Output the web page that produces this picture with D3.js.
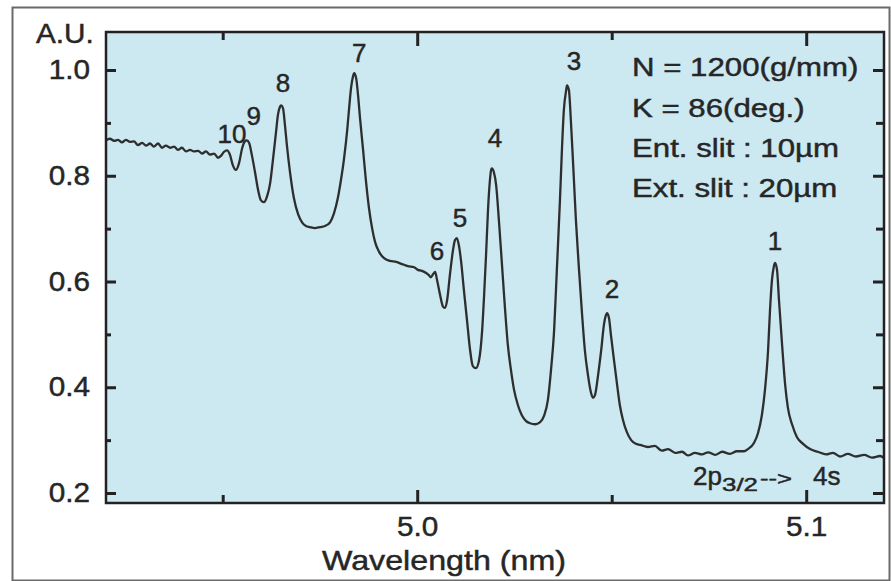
<!DOCTYPE html>
<html><head><meta charset="utf-8">
<script src="https://cdn.jsdelivr.net/npm/d3@7"></script>
<style>
body{margin:0;background:#fff}
svg{display:block}
text{font-family:"Liberation Sans",Arial,Helvetica,sans-serif;fill:#262626;stroke:#262626;stroke-width:0.45px}
</style>
</head><body>
<svg id="chart" width="891" height="581"></svg>
<script>
// ---------- data ----------
const wavelength = [
4.9200,4.9210,4.9221,4.9231,4.9241,4.9251,4.9262,4.9272,4.9282,4.9293,4.9303,4.9313,4.9323,4.9334,4.9344,4.9354,4.9365,4.9375,4.9385,4.9395,
4.9406,4.9416,4.9426,4.9437,4.9447,4.9457,4.9467,4.9478,4.9488,4.9496,4.9503,4.9511,4.9519,4.9526,4.9534,4.9542,4.9550,4.9557,4.9562,4.9568,
4.9575,4.9583,4.9591,4.9598,4.9606,4.9614,4.9622,4.9629,4.9637,4.9642,4.9647,4.9650,4.9655,4.9660,4.9665,4.9673,4.9683,4.9694,4.9704,4.9714,
4.9724,4.9737,4.9750,4.9763,4.9776,4.9786,4.9796,4.9804,4.9812,4.9820,4.9825,4.9830,4.9835,4.9838,4.9843,4.9848,4.9853,4.9861,4.9868,4.9876,
4.9884,4.9892,4.9902,4.9915,4.9930,4.9946,4.9961,4.9976,4.9992,5.0002,5.0012,5.0023,5.0030,5.0035,5.0041,5.0046,5.0051,5.0059,5.0066,5.0071,
5.0077,5.0084,5.0092,5.0097,5.0102,5.0107,5.0113,5.0120,5.0128,5.0136,5.0143,5.0151,5.0159,5.0167,5.0172,5.0177,5.0182,5.0187,5.0190,5.0192,
5.0197,5.0203,5.0210,5.0218,5.0226,5.0233,5.0241,5.0249,5.0259,5.0269,5.0280,5.0290,5.0303,5.0316,5.0326,5.0336,5.0344,5.0352,5.0359,5.0367,
5.0372,5.0377,5.0383,5.0385,5.0390,5.0395,5.0401,5.0408,5.0416,5.0424,5.0431,5.0439,5.0447,5.0452,5.0457,5.0465,5.0473,5.0480,5.0485,5.0488,
5.0493,5.0498,5.0506,5.0514,5.0521,5.0529,5.0539,5.0550,5.0562,5.0573,5.0593,5.0611,5.0629,5.0645,5.0663,5.0681,5.0696,5.0714,5.0732,5.0748,
5.0766,5.0784,5.0804,5.0822,5.0840,5.0850,5.0866,5.0876,5.0886,5.0894,5.0902,5.0907,5.0912,5.0917,5.0920,5.0925,5.0930,5.0938,5.0946,5.0953,
5.0964,5.0976,5.0992,5.1010,5.1030,5.1051,5.1069,5.1087,5.1107,5.1128,5.1149,5.1169,5.1190,5.1200
];
const intensity = [
0.867,0.870,0.866,0.868,0.863,0.868,0.864,0.865,0.858,0.862,0.857,0.861,0.855,0.861,0.853,0.857,0.853,0.855,0.849,0.853,
0.846,0.849,0.846,0.847,0.842,0.846,0.840,0.842,0.834,0.838,0.845,0.848,0.839,0.820,0.811,0.824,0.852,0.865,0.867,0.862,
0.839,0.807,0.773,0.754,0.750,0.761,0.786,0.829,0.882,0.915,0.930,0.933,0.928,0.896,0.858,0.807,0.758,0.727,0.712,0.705,
0.703,0.701,0.703,0.705,0.712,0.729,0.758,0.792,0.833,0.886,0.928,0.966,0.988,0.994,0.985,0.952,0.909,0.848,0.792,0.739,
0.701,0.674,0.656,0.644,0.639,0.637,0.633,0.629,0.627,0.622,0.620,0.616,0.612,0.608,0.614,0.618,0.603,0.574,0.553,0.550,
0.565,0.612,0.659,0.678,0.682,0.669,0.637,0.584,0.527,0.470,0.440,0.436,0.451,0.508,0.574,0.650,0.735,0.792,0.811,0.814,
0.807,0.782,0.716,0.631,0.546,0.480,0.433,0.395,0.366,0.347,0.336,0.332,0.330,0.334,0.346,0.376,0.433,0.508,0.622,0.754,
0.848,0.924,0.962,0.971,0.962,0.905,0.820,0.716,0.622,0.536,0.470,0.423,0.389,0.380,0.385,0.423,0.470,0.518,0.536,0.540,
0.531,0.499,0.451,0.404,0.366,0.338,0.315,0.300,0.293,0.291,0.287,0.289,0.280,0.283,0.276,0.278,0.271,0.276,0.273,0.277,
0.272,0.278,0.274,0.279,0.279,0.283,0.295,0.313,0.347,0.395,0.470,0.546,0.603,0.629,0.635,0.622,0.565,0.480,0.404,0.361,
0.329,0.306,0.293,0.283,0.278,0.273,0.276,0.269,0.274,0.269,0.272,0.267,0.270,0.266
];
const peakLabels     = ["1","2","3","4","5","6","7","8","9","10"];
const peakWavelength = [5.0920,5.0488,5.0385,5.0192,5.0102,5.0046,4.9838,4.9650,4.9562,4.9511];
const peakIntensity  = [0.635,0.540,0.971,0.814,0.682,0.618,0.994,0.933,0.867,0.848];
const xTickValues = [4.95, 5.0, 5.05, 5.1];
const xTickLabels = ["", "5.0", "", "5.1"];
const yTickValues = [0.2, 0.3, 0.4, 0.5, 0.6, 0.7, 0.8, 0.9, 1.0];
const yTickLabels = ["0.2", "", "0.4", "", "0.6", "", "0.8", "", "1.0"];
const yUnit = "A.U.";
const xTitle = "Wavelength (nm)";
const notes = ["N = 1200(g/mm)", "K = 86(deg.)", "Ent. slit : 10\u00b5m", "Ext. slit : 20\u00b5m"];
const transition = ["2p", "3/2", "-->", "4s"];

// ---------- layout ----------
const L = 106, T = 32, R = 884, B = 503;
const svg = d3.select("#chart");
const x = d3.scaleLinear().domain([4.92, 5.12]).range([L, R]);
const y = d3.scaleLinear().domain([0.2, 1.0]).range([493, 70]);
const ink = "#222";

function stretch(sel, f) {
  sel.each(function () {
    const w = this.getComputedTextLength();
    d3.select(this).attr("textLength", w * f).attr("lengthAdjust", "spacingAndGlyphs");
  });
}

// outer frame
svg.append("rect").attr("x", 12.5).attr("y", 7.5).attr("width", 877).attr("height", 573)
  .attr("fill", "#fff").attr("stroke", "#6a6a6a").attr("stroke-width", 2);

// plot background
svg.append("rect").attr("x", L).attr("y", T).attr("width", R - L).attr("height", B - T)
  .attr("fill", "#cce8f1");

// curve
const line = d3.line().x((d, i) => x(wavelength[i])).y((d, i) => y(intensity[i])).curve(d3.curveMonotoneX);
svg.append("path").datum(intensity).attr("d", line)
  .attr("fill", "none").attr("stroke", "#2e2e2e").attr("stroke-width", 2.3).attr("stroke-linejoin", "round");

// axes (ticks inward)
const isMajorY = (v) => yTickLabels[yTickValues.indexOf(v)] !== "";
const isMajorX = (v) => xTickLabels[xTickValues.indexOf(v)] !== "";
function styleAxis(g) {
  g.select(".domain").remove();
  g.selectAll(".tick line").attr("stroke", ink).attr("stroke-width", 3);
  g.selectAll(".tick text").attr("fill", "#262626").style("font-family", '"Liberation Sans",Arial,sans-serif');
}
// left
const gL = svg.append("g").attr("transform", `translate(${L},0)`)
  .call(d3.axisLeft(y).tickValues(yTickValues).tickSize(-10).tickPadding(16)
    .tickFormat((d, i) => yTickLabels[i]));
styleAxis(gL);
gL.selectAll(".tick line").attr("x2", d => isMajorY(d) ? 10 : 5);
gL.selectAll(".tick text").style("font-size", "27px");
stretch(gL.selectAll(".tick text"), 1.1);
// right
const gR = svg.append("g").attr("transform", `translate(${R},0)`)
  .call(d3.axisRight(y).tickValues(yTickValues).tickSize(-10).tickFormat(""));
styleAxis(gR);
gR.selectAll(".tick line").attr("x2", d => isMajorY(d) ? -11 : -8);
// bottom
const gB = svg.append("g").attr("transform", `translate(0,${B})`)
  .call(d3.axisBottom(x).tickValues(xTickValues).tickSize(-13).tickPadding(14)
    .tickFormat((d, i) => xTickLabels[i]));
styleAxis(gB);
gB.selectAll(".tick line").attr("y2", d => isMajorX(d) ? -13 : -8);
gB.selectAll(".tick text").style("font-size", "27px");
stretch(gB.selectAll(".tick text"), 1.1);
// top
const gT = svg.append("g").attr("transform", `translate(0,${T})`)
  .call(d3.axisTop(x).tickValues(xTickValues).tickSize(-13).tickFormat(""));
styleAxis(gT);
gT.selectAll(".tick line").attr("y2", d => isMajorX(d) ? 14 : 8);

// frame
svg.append("rect").attr("x", L).attr("y", T).attr("width", R - L).attr("height", B - T)
  .attr("fill", "none").attr("stroke", ink).attr("stroke-width", 2.5);

// unit label
const au = svg.append("text").attr("x", 36).attr("y", 43).style("font-size", "27px").text(yUnit);
stretch(au, 1.1);

// x title
const xt = svg.append("text").attr("x", 444).attr("y", 570).attr("text-anchor", "middle")
  .style("font-size", "28px").text(xTitle);
stretch(xt, 1.15);

// notes
const noteY = [76, 117, 157, 197];
notes.forEach((s, i) => {
  const t = svg.append("text").attr("x", 632).attr("y", noteY[i]).style("font-size", "26px").text(s);
  stretch(t, 1.2);
});

// transition label (tspans placed side by side)
const trX = [693, 722, 760, 813];
const trDy = [0, 6, -6, 0];
const trSize = [26, 19, 18, 26];
const trW = [null, 36, 32, null];
const tr = svg.append("text").attr("y", 485).style("font-size", "26px");
transition.forEach((s, i) => {
  const ts = tr.append("tspan").attr("x", trX[i]).attr("dy", trDy[i]).style("font-size", trSize[i] + "px").text(s);
  if (trW[i]) ts.attr("textLength", trW[i]).attr("lengthAdjust", "spacingAndGlyphs");
});

// peak labels
const labDx = [0, 5, 7, 3, 3, 2, 5, 2, 7, 5];
const labDy = [-13, -15, -15, -21, -11, -12, -11, -13, -15, -7];
svg.append("g").selectAll("text").data(peakLabels).join("text")
  .attr("x", (d, i) => x(peakWavelength[i]) + labDx[i])
  .attr("y", (d, i) => y(peakIntensity[i]) + labDy[i])
  .attr("text-anchor", "middle").style("font-size", "26px").text(d => d);
</script>
</body></html>
